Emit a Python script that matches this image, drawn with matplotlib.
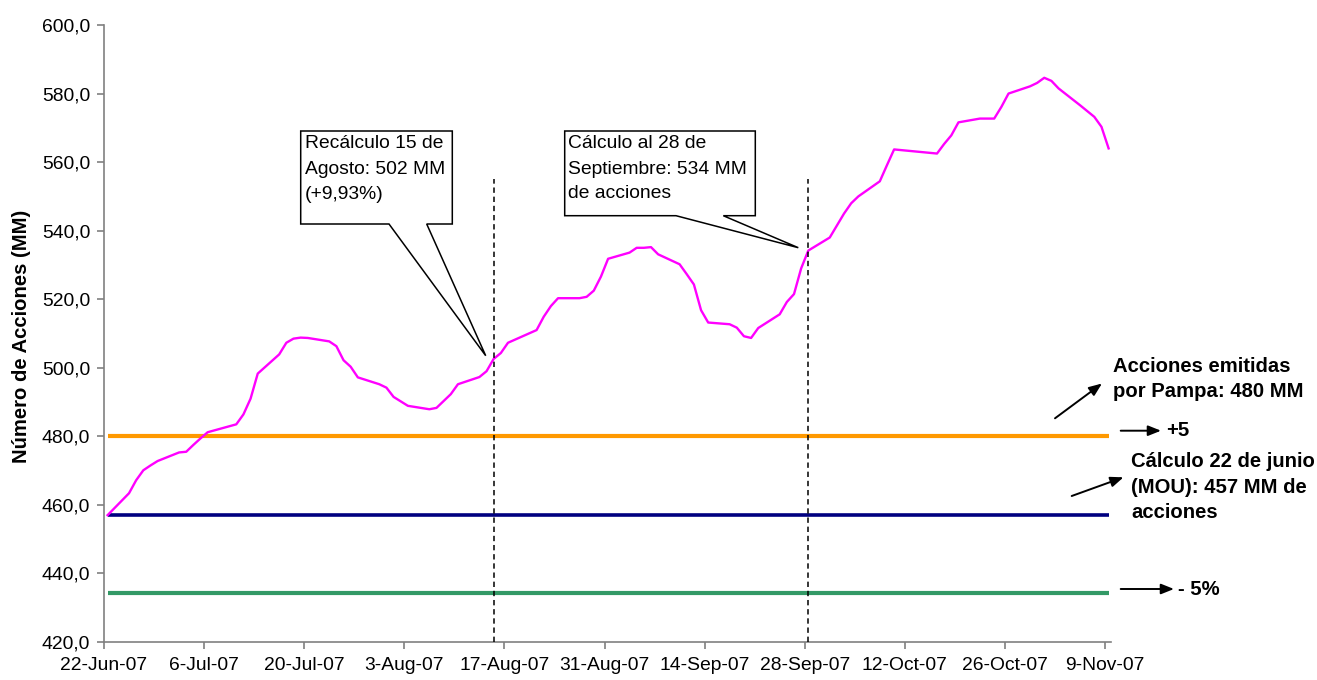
import matplotlib
matplotlib.use('Agg')
import matplotlib.pyplot as plt
import pandas as pd
from matplotlib.patches import Polygon, FancyArrowPatch
from matplotlib.ticker import FuncFormatter

plt.rcParams['font.family'] = ['Liberation Sans', 'DejaVu Sans']

# ---------------- data ----------------
dates = ['2007-06-22', '2007-06-25', '2007-06-26', '2007-06-27', '2007-06-28', '2007-06-29',
         '2007-07-02', '2007-07-03', '2007-07-04', '2007-07-05', '2007-07-06',
         '2007-07-10', '2007-07-11', '2007-07-12', '2007-07-13',
         '2007-07-16', '2007-07-17', '2007-07-18', '2007-07-19', '2007-07-20',
         '2007-07-23', '2007-07-24', '2007-07-25', '2007-07-26', '2007-07-27',
         '2007-07-30', '2007-07-31', '2007-08-01', '2007-08-02', '2007-08-03',
         '2007-08-06', '2007-08-07', '2007-08-08', '2007-08-09', '2007-08-10',
         '2007-08-13', '2007-08-14', '2007-08-15', '2007-08-16', '2007-08-17',
         '2007-08-21', '2007-08-22', '2007-08-23', '2007-08-24',
         '2007-08-27', '2007-08-28', '2007-08-29', '2007-08-30', '2007-08-31',
         '2007-09-03', '2007-09-04', '2007-09-05', '2007-09-06', '2007-09-07',
         '2007-09-10', '2007-09-11', '2007-09-12', '2007-09-13', '2007-09-14',
         '2007-09-17', '2007-09-18', '2007-09-19', '2007-09-20', '2007-09-21',
         '2007-09-24', '2007-09-25', '2007-09-26', '2007-09-27', '2007-09-28',
         '2007-10-01', '2007-10-02', '2007-10-03', '2007-10-04', '2007-10-05',
         '2007-10-08', '2007-10-09', '2007-10-10', '2007-10-11',
         '2007-10-16', '2007-10-17', '2007-10-18', '2007-10-19',
         '2007-10-22', '2007-10-23', '2007-10-24', '2007-10-25', '2007-10-26',
         '2007-10-29', '2007-10-30', '2007-10-31', '2007-11-01', '2007-11-02',
         '2007-11-05', '2007-11-06', '2007-11-07', '2007-11-08', '2007-11-09']
acciones = [457.0, 463.4, 467.2, 470.1, 471.5, 472.8,
            475.3, 475.5, 477.5, 479.4, 481.2,
            483.5, 486.4, 491.0, 498.3,
            503.9, 507.3, 508.5, 508.8, 508.7,
            507.7, 506.3, 502.2, 500.3, 497.2,
            495.2, 494.2, 491.5, 490.2, 488.9,
            487.9, 488.3, 490.3, 492.3, 495.2,
            497.3, 499.0, 502.6, 504.3, 507.3,
            511.0, 514.9, 518.0, 520.3,
            520.3, 520.7, 522.5, 526.6, 531.8,
            533.6, 535.0, 535.0, 535.2, 533.1,
            530.2, 527.3, 524.3, 516.8, 513.2,
            512.7, 511.7, 509.2, 508.7, 511.6,
            515.6, 519.2, 521.5, 529.0, 534.2,
            538.0, 541.5, 545.0, 548.0, 550.0,
            554.4, 559.1, 563.7, 563.5,
            562.5, 565.3, 567.8, 571.6,
            572.7, 572.7, 572.7, 576.1, 580.0,
            582.1, 583.1, 584.6, 583.7, 581.5,
            576.6, 574.9, 573.2, 570.3, 564.0]

emitidas = 480.0
calculo_junio = 457.0
menos_5 = 434.15
marcas = ['2007-08-15', '2007-09-28']

tick_dates = ['2007-06-22', '2007-07-06', '2007-07-20', '2007-08-03', '2007-08-17', '2007-08-31',
              '2007-09-14', '2007-09-28', '2007-10-12', '2007-10-26', '2007-11-09']
tick_labels = ['22-Jun-07', '6-Jul-07', '20-Jul-07', '3-Aug-07', '17-Aug-07', '31-Aug-07',
               '14-Sep-07', '28-Sep-07', '12-Oct-07', '26-Oct-07', '9-Nov-07']
y_ticks = [420, 440, 460, 480, 500, 520, 540, 560, 580, 600]

# ---------------- figure ----------------
W, H = 1317, 680
fig = plt.figure(figsize=(W / 100, H / 100), dpi=100)
fig.patch.set_facecolor('white')

FS = 13.9
FSB = 14.6


def fx(x):
    return x / W


def fy(y):
    return 1 - y / H


ax = fig.add_axes([fx(104), fy(642), (1111 - 104) / W, (642 - 25) / H])

half = pd.Timedelta(hours=12)
x = pd.to_datetime(dates) + half
ends = [x[0], x[-1]]

ax.plot(ends, [menos_5] * 2, color='#339966', lw=3, solid_capstyle='butt', zorder=2)
ax.plot(ends, [calculo_junio] * 2, color='#000080', lw=2.6, solid_capstyle='butt', zorder=2)
ax.plot(ends, [emitidas] * 2, color='#FF9900', lw=3, solid_capstyle='butt', zorder=2)
ax.plot(x, acciones, color='#FF00FF', lw=1.7, zorder=3)

for m in marcas:
    xm = pd.Timestamp(m) + half
    ax.plot([xm, xm], [420, 555.2], color='black', lw=1.1, dashes=(3.5, 2.5), zorder=4)

ax.set_xlim(pd.Timestamp('2007-06-22'), pd.Timestamp('2007-11-09 20:00'))
ax.set_ylim(420, 600)
ax.set_xticks(pd.to_datetime(tick_dates))
ax.set_xticklabels(tick_labels)
ax.set_yticks(y_ticks)
ax.yaxis.set_major_formatter(FuncFormatter(lambda v, p: f"{v:.1f}".replace('.', ',')))

for s in ['top', 'right']:
    ax.spines[s].set_visible(False)
for s in ['left', 'bottom']:
    ax.spines[s].set_color('#808080')
    ax.spines[s].set_linewidth(1.2)
ax.tick_params(axis='both', direction='out', length=5, width=1.2, color='#808080',
               labelsize=FS, labelcolor='black')
ax.tick_params(axis='x', pad=6)
ax.tick_params(axis='y', pad=5)

fig.text(fx(22), fy(336), 'Número de Acciones (MM)', rotation=90, ha='center', va='center',
         fontsize=FSB, fontweight='bold')

# ---------------- callouts ----------------
def callout(box, base, tip, lines, text_x, text_ys):
    x0, y0, x1, y1 = box
    pts = [(x0, y0), (x1, y0), (x1, y1), (base[1], y1), tip, (base[0], y1), (x0, y1)]
    poly = Polygon([(fx(a), fy(b)) for a, b in pts], closed=True, transform=fig.transFigure,
                   facecolor='white', edgecolor='black', lw=1.1, zorder=10)
    fig.add_artist(poly)
    for t, ty in zip(lines, text_ys):
        fig.text(fx(text_x), fy(ty), t, ha='left', va='center', fontsize=FS, zorder=11)


callout((300.7, 131, 452.3, 224), (389, 426.7), (485.7, 355.7),
        ['Recálculo 15 de', 'Agosto: 502 MM', '(+9,93%)'], 305, [143.3, 169.3, 194.5])
callout((564.7, 131, 755.3, 215.7), (676, 723.3), (798.3, 247.7),
        ['Cálculo al 28 de', 'Septiembre: 534 MM', 'de acciones'], 568.3, [143.3, 169.3, 193])

# ---------------- right annotations ----------------
def arrow(p0, p1):
    a = FancyArrowPatch((fx(p0[0]), fy(p0[1])), (fx(p1[0]), fy(p1[1])), transform=fig.transFigure,
                        arrowstyle='-|>,head_length=0.55,head_width=0.22', mutation_scale=14,
                        lw=1.4, color='black', shrinkA=0, shrinkB=0)
    fig.add_artist(a)


def btext(xp, yp, s):
    fig.text(fx(xp), fy(yp), s, ha='left', va='center', fontsize=FSB, fontweight='bold')


btext(1113, 367, 'Acciones emitidas')
btext(1113, 392, 'por Pampa: 480 MM')
arrow((1055, 418.3), (1102, 383.5))

arrow((1120.7, 430.7), (1161, 430.7))
btext(1166, 431, '+5')

btext(1131, 461.7, 'Cálculo 22 de junio')
btext(1131, 487.3, '(MOU): 457 MM de')
btext(1131, 513, 'acciones')
arrow((1071.7, 496), (1123.5, 477.3))

arrow((1120.7, 589), (1174, 589))
btext(1178.5, 589.5, '- 5%')

fig.savefig('out.png', dpi=100, facecolor='white')
